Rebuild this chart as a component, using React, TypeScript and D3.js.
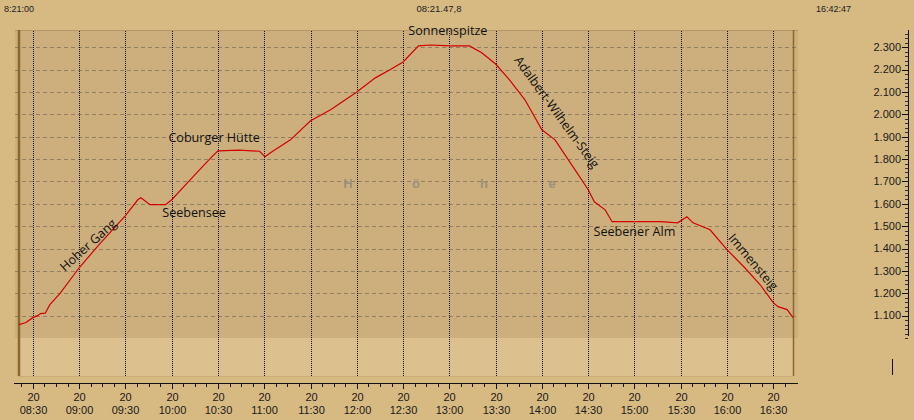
import React from 'react';
import * as d3 from 'd3';

// track: time of day and elevation in metres
const trackTimes = [
  '08:21:00', '08:25:30', '08:30:00', '08:33:00', '08:35:00', '08:38:00', '08:41:00', '08:47:30', '09:00:00',
  '09:13:30', '09:30:00', '09:38:00', '09:40:00', '09:46:00', '09:56:00', '10:00:00',
  '10:08:30', '10:18:00', '10:26:00', '10:30:00', '10:44:00', '10:57:00', '11:00:30',
  '11:04:00', '11:17:00', '11:30:00', '11:43:00', '12:00:00', '12:12:00', '12:21:30',
  '12:30:00', '12:40:00', '12:47:30', '13:00:30', '13:13:00', '13:21:00', '13:30:00',
  '13:39:00', '13:49:00', '14:00:00', '14:08:30', '14:21:30', '14:30:00', '14:34:00',
  '14:41:00', '14:45:30', '15:00:00', '15:17:00', '15:28:00', '15:34:00', '15:38:00',
  '15:49:00', '16:00:00', '16:11:30', '16:21:30', '16:30:00', '16:33:00', '16:39:00',
  '16:42:47',
];
const trackElev = [
  1060, 1069, 1091, 1100, 1109, 1111, 1149, 1198, 1314,
  1422, 1547, 1618, 1627, 1596, 1596, 1618,
  1681, 1752, 1810, 1837, 1840, 1835, 1810,
  1828, 1886, 1971, 2020, 2100, 2163, 2199,
  2234, 2306, 2310, 2306, 2306, 2275, 2225,
  2154, 2065, 1931, 1886, 1752, 1663, 1609,
  1573, 1520, 1520, 1520, 1515, 1542, 1515,
  1484, 1395, 1314, 1238, 1158, 1140, 1127,
  1091,
];

// place names along the route (anchor in time / elevation, rotation in degrees)
const placeNames = ['Sonnenspitze', 'Coburger Hütte', 'Seebensee', 'Hoher Gang', 'Adalbert-Wilhelm-Steig', 'Seebener Alm', 'Immensteig'];
const placeTimes = ['12:59:00', '10:27:30', '10:14:30', '09:05:45', '14:09:45', '15:00:00', '16:17:00'];
const placeElev = [2373, 1898, 1563, 1416, 2010, 1478, 1340];
const placeAngle = [0, 0, 0, -42, 54, 0, 50];

const startLabel = '8:21:00';
const durationLabel = '08:21.47,8';
const endLabel = '16:42:47';
const dayLabel = '20';
const watermark = ['H', 'ö', 'h', 'e'];

const W = 914;
const H = 420;

const parse = d3.timeParse('%H:%M:%S');
const de = d3.formatLocale({ decimal: ',', thousands: '.', grouping: [3], currency: ['', '€'] });
const fmtElev = de.format(',.0f');
const fmtTime = d3.timeFormat('%H:%M');

export default function App() {
  const t0 = parse('08:21:00') as Date;
  const t1 = parse('16:42:47') as Date;
  const x = d3.scaleTime().domain([t0, t1]).range([19, 793]);
  const y = d3.scaleLinear().domain([1000, 2377]).range([338, 30]);

  const pts: [Date, number][] = trackTimes.map((t, i) => [parse(t) as Date, trackElev[i]]);
  const line = d3
    .line<[Date, number]>()
    .x((d) => x(d[0]))
    .y((d) => y(d[1]));

  const majorX = d3.timeMinute.every(30)!.range(parse('08:30:00') as Date, parse('16:31:00') as Date);
  const minorX: Date[] = [];
  for (let m = 0; m <= 66; m++) minorX.push(new Date((parse('08:22:30') as Date).getTime() + m * 7.5 * 60000));

  const yTicks = d3.range(1100, 2301, 100);
  const yMinor = d3.range(1000, 2377, 20);

  const wm = d3.scalePoint<string>().domain(watermark.map((d, i) => d + i)).range([348, 552]);

  const axisFont = '"Liberation Sans", Arial, sans-serif';

  return (
    <svg width={W} height={H} style={{ position: 'absolute', left: 0, top: 0, background: '#d7b982' }}>
      <rect x={0} y={0} width={W} height={H} fill="#d7b982" />
      {/* plot panels */}
      <rect x={15} y={30} width={783} height={308} fill="#ccaf7d" />
      <rect x={18} y={338} width={775} height={38} fill="#dcc08d" />
      <line x1={18} x2={793} y1={376.5} y2={376.5} stroke="#c9ac79" />
      <line x1={15} x2={798} y1={30.5} y2={30.5} stroke="#b39765" />

      {/* horizontal dashed grid */}
      {yTicks.map((v) => (
        <line key={v} x1={15} x2={798} y1={Math.round(y(v)) + 0.5} y2={Math.round(y(v)) + 0.5} stroke="#928065" strokeDasharray="4,3" />
      ))}
      {/* vertical dotted grid */}
      {majorX.map((d) => (
        <line key={+d} x1={Math.round(x(d)) + 0.5} x2={Math.round(x(d)) + 0.5} y1={31} y2={376} stroke="#111" strokeDasharray="1,1" />
      ))}

      {/* watermark */}
      {watermark.map((c, i) => (
        <text key={i} x={wm(c + i)} y={188} textAnchor="middle" fontFamily={axisFont} fontWeight="bold" fontSize={13} fill="#9c907a">
          {c}
        </text>
      ))}

      {/* frame lines */}
      <line x1={19} x2={19} y1={30} y2={376} stroke="#8a6a2c" strokeWidth={2.5} />
      <line x1={793.5} x2={793.5} y1={30} y2={376} stroke="#8a6a2c" strokeWidth={1.5} />

      {/* track */}
      <path d={line(pts) ?? ''} fill="none" stroke="#d40000" strokeWidth={1.2} />

      {/* place names */}
      {placeNames.map((n, i) => {
        const px = x(parse(placeTimes[i]) as Date);
        const py = y(placeElev[i]);
        return (
          <text
            key={n}
            transform={`translate(${px},${py}) rotate(${placeAngle[i]})`}
            textAnchor="middle"
            dominantBaseline="central"
            fontFamily='"Open Sans", sans-serif'
            fontSize={12.6}
            fill="#111"
          >
            {n}
          </text>
        );
      })}

      {/* top labels */}
      <text x={4} y={12} fontFamily={axisFont} fontSize={9} fill="#222">{startLabel}</text>
      <text x={439} y={12} textAnchor="middle" fontFamily={axisFont} fontSize={9.5} fill="#222">{durationLabel}</text>
      <text x={816} y={12} fontFamily={axisFont} fontSize={9} fill="#222">{endLabel}</text>

      {/* x axis */}
      <line x1={14} x2={798} y1={383.5} y2={383.5} stroke="#111" />
      {minorX.map((d) => (
        <line key={+d} x1={Math.round(x(d)) + 0.5} x2={Math.round(x(d)) + 0.5} y1={384} y2={387} stroke="#111" />
      ))}
      {majorX.map((d) => (
        <g key={+d} transform={`translate(${Math.round(x(d)) + 0.5},0)`}>
          <line y1={384} y2={389} stroke="#111" />
          <text y={401} textAnchor="middle" fontFamily={axisFont} fontSize={11} fill="#1a1a1a">{dayLabel}</text>
          <text y={414} textAnchor="middle" fontFamily={axisFont} fontSize={11} fill="#1a1a1a">{fmtTime(d)}</text>
        </g>
      ))}

      {/* y axis (right) */}
      <line x1={908.5} x2={908.5} y1={30} y2={336} stroke="#111" />
      {yMinor.map((v) => (
        <line key={v} x1={905} x2={908} y1={Math.round(y(v)) + 0.5} y2={Math.round(y(v)) + 0.5} stroke="#333" />
      ))}
      {yTicks.map((v) => (
        <g key={v}>
          <line x1={902} x2={908} y1={Math.round(y(v)) + 0.5} y2={Math.round(y(v)) + 0.5} stroke="#111" />
          <text x={901} y={y(v)} dy="0.35em" textAnchor="end" fontFamily={axisFont} fontSize={11} fill="#1a1a1a">
            {fmtElev(v)}
          </text>
        </g>
      ))}

      {/* small cursor mark */}
      <line x1={892.5} x2={892.5} y1={359} y2={375} stroke="#111" />
    </svg>
  );
}
